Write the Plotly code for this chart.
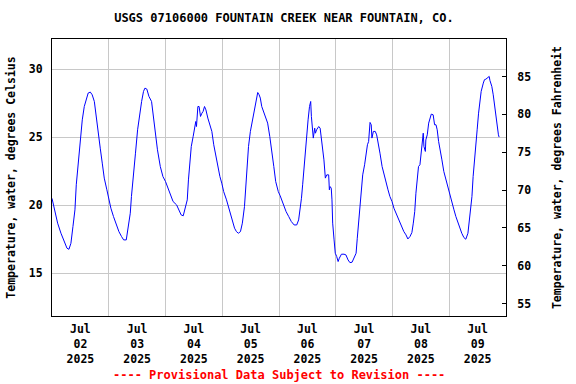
import pandas as pd
import plotly.graph_objects as go

START = "2025-07-02 00:00"

# Hours since 2025-07-02 00:00 and water temperature (deg C)
hours = [
    0, 0.97, 2.38, 3.79, 5.2, 6.33, 7.17, 8.0, 8.86, 9.7, 10.27, 11.1, 11.96, 12.8, 13.65,
    14.5, 15.3, 16.2, 17.0, 17.9, 18.7, 19.6, 20.4, 21.25, 22.1, 23.2, 24.1, 24.9, 26.0,
    27.2, 28.3, 29.4, 30.3, 31.4, 32.2, 33.1, 33.6, 34.5, 35.3, 36.2, 37.0, 37.9, 38.7,
    39.3, 40.1, 41.0, 42.1, 42.9, 43.8, 44.6, 45.8, 46.9, 48.0,
    49.3, 50.4, 51.2, 52.7, 53.8, 54.6, 55.5, 56.3, 57.2, 57.7, 58.3, 58.9, 59.7, 60.3,
    60.8, 61.1, 61.7, 62.2, 62.8, 63.4, 63.9, 64.5, 65.1, 65.9, 66.7, 67.6, 68.4, 69.3,
    70.1, 71.0, 71.8, 72.6, 73.8, 74.6, 75.5, 76.3, 77.2, 78.0, 78.8, 79.7, 80.5, 81.4,
    81.9, 82.5, 83.1, 83.9, 84.8, 85.6, 86.5, 87.0, 87.6, 88.1, 88.7, 89.5, 90.4, 91.2,
    92.1, 92.9, 93.8, 94.6, 95.7,
    96.5, 97.3, 98.2, 99.0, 100.1, 101.2, 102.4, 103.5, 104.3, 104.9, 105.5, 106.0, 106.6,
    107.2, 107.7, 108.3, 108.9, 109.4, 109.7, 110.3, 110.5, 111.1, 111.4, 111.9, 112.8,
    113.4, 113.9, 114.5, 115.0, 115.6, 116.2, 117.0, 117.3, 117.6, 118.1, 118.4, 118.7,
    119.3, 119.8, 120.4, 121.0, 121.5, 122.4, 123.5, 124.3, 125.2, 126.0, 126.9, 127.7,
    128.6, 129.1, 129.7, 130.3, 130.8, 131.4, 132.2, 132.8, 133.4, 133.9, 134.5, 135.0,
    135.3, 135.9, 136.7, 137.3, 137.9, 138.7, 139.6, 140.4, 141.2, 142.1,
    142.9, 143.8, 144.6, 145.5, 146.3, 147.2, 148.0, 148.8, 149.7, 150.5, 151.4, 152.2,
    152.8, 153.4, 153.9, 154.5, 155.0, 155.6, 156.2, 156.7, 157.0, 157.3, 157.9, 158.1,
    158.7, 159.3, 159.8, 160.4, 161.2, 161.8, 162.4, 162.9, 163.5, 164.0, 164.9, 165.7,
    166.6, 167.4, 168.3, 169.1, 170.0, 170.8, 171.7, 172.5, 173.3, 174.2, 175.0, 175.9,
    176.4, 177.0, 177.6, 178.1, 178.7, 179.3, 179.8, 180.4, 181.0, 181.5, 182.4, 182.9,
    183.5, 184.0, 184.6, 184.9, 185.2, 186.0, 186.6, 187.1, 187.7, 188.3, 188.8, 189.1,
]
temp_c = [
    20.5, 19.66, 18.68, 17.94, 17.25, 16.84, 16.76, 17.2, 18.43, 19.66, 21.5, 23.09, 24.56,
    26.27, 27.25, 27.87, 28.24, 28.31, 28.11, 27.62, 26.64, 25.29, 24.19, 23.09, 21.99,
    21.13, 20.4, 19.78, 19.17, 18.55, 18.06, 17.70, 17.45, 17.45, 18.31, 19.41, 20.64,
    22.6, 23.82, 25.54, 26.64, 27.62, 28.36, 28.60, 28.53, 27.99, 27.62, 26.40, 25.42,
    24.07, 22.84, 22.11, 21.74,
    21.13, 20.64, 20.27, 20.02, 19.66, 19.29, 19.22, 19.9, 20.39, 21.86, 23.33, 24.31,
    25.05, 25.78, 26.15, 25.78, 27.25, 27.25, 26.52, 26.76, 26.89, 27.25, 27.0, 26.40,
    25.91, 25.42, 24.44, 23.58, 22.84, 22.11, 21.62, 21.0, 20.39, 19.90, 19.41, 18.80,
    18.31, 18.06, 17.94, 18.06, 18.68, 19.90, 21.37, 22.84, 24.31, 25.42, 26.27, 27.13,
    27.99, 28.28, 28.11, 27.87, 27.25, 26.89, 26.52, 26.03, 25.05, 23.82, 22.84, 21.74,
    21.0,
    20.69, 20.27, 19.9, 19.53, 19.17, 18.80, 18.55, 18.55, 18.92, 19.66, 20.51, 21.5,
    22.84, 24.07, 25.05, 26.27, 27.25, 27.62, 26.52, 25.66, 24.93, 25.66, 25.29, 25.54,
    25.78, 25.66, 25.05, 24.19, 23.33, 21.99, 22.23, 22.23, 21.13, 21.37, 21.25, 20.39,
    18.68, 17.45, 16.47, 16.23, 15.86, 16.1, 16.40, 16.40, 16.35, 15.98, 15.78, 15.81,
    16.1, 16.47, 17.57, 18.80, 19.9, 20.88, 22.23, 22.97, 23.82, 24.44, 24.68, 26.08,
    25.91, 24.93, 25.42, 25.42, 25.17, 24.44, 23.82, 22.84, 22.23, 21.62, 21.13,
    20.64, 20.27, 19.78, 19.41, 19.04, 18.68, 18.43, 18.06, 17.82, 17.52, 17.70, 17.99,
    18.68, 19.53, 20.88, 21.99, 22.84, 22.97, 24.07, 25.25, 25.29, 24.31, 23.95, 24.80,
    25.17, 26.03, 26.40, 26.69, 26.64, 25.91, 25.91, 25.54, 24.68, 24.07, 23.33, 22.48,
    21.86, 21.25, 20.76, 20.15, 19.66, 19.17, 18.68, 18.31, 17.94, 17.62, 17.5, 17.94,
    18.68, 19.41, 20.64, 22.11, 23.58, 24.56, 25.54, 26.76, 27.75, 28.36, 28.97, 29.22,
    29.26, 29.34, 29.41, 29.46, 29.17, 28.73, 28.11, 27.38, 26.52, 25.78, 25.17, 25.0,
]

day_labels = ["02", "03", "04", "05", "06", "07", "08", "09"]
c_ticks = [15, 20, 25, 30]
f_ticks = [55, 60, 65, 70, 75, 80, 85]
c_range = [11.86, 32.21]
f_range = [c * 9 / 5 + 32 for c in c_range]

times = pd.Timestamp(START) + pd.to_timedelta(hours, unit="h")
tick_noon = [pd.Timestamp(f"2025-07-{d} 12:00") for d in day_labels]
tick_text = [f"Jul<br>{d}<br>2025" for d in day_labels]

FONT = "DejaVu Sans Mono"
fnt = dict(family=FONT, size=11.5, color="black", weight="bold")

fig = go.Figure()
fig.add_trace(go.Scatter(x=times, y=temp_c, mode="lines",
                         line=dict(color="#0000FF", width=1), showlegend=False,
                         hoverinfo="skip"))
# invisible trace to activate right axis
fig.add_trace(go.Scatter(x=[times[0]], y=[f_range[0]], yaxis="y2", mode="markers",
                         marker=dict(opacity=0), showlegend=False, hoverinfo="skip"))

fig.update_layout(
    width=576, height=384,
    margin=dict(l=52, r=70, t=39, b=68, autoexpand=False),
    paper_bgcolor="white", plot_bgcolor="white",
    title=dict(text="USGS 07106000 FOUNTAIN CREEK NEAR FOUNTAIN, CO.",
               x=0.493, xanchor="center", y=1 - 18 / 384, yanchor="middle",
               font=dict(family=FONT, size=12, color="black", weight="bold")),
    xaxis=dict(
        range=[pd.Timestamp("2025-07-02"), pd.Timestamp("2025-07-10")],
        tickmode="array", tickvals=tick_noon, ticktext=tick_text,
        showgrid=False, ticks="", tickfont=fnt, ticklabelstandoff=2,
        showline=True, linecolor="black", linewidth=1, mirror=True,
        zeroline=False,
        minor=dict(tickmode="linear", tick0="2025-07-02", dtick=86400000,
                   showgrid=True, gridcolor="#c8c8c8", gridwidth=1, ticks=""),
    ),
    yaxis=dict(
        range=c_range, tickmode="array", tickvals=c_ticks,
        showgrid=True, gridcolor="#c8c8c8", gridwidth=1, ticks="",
        tickfont=fnt, ticklabelstandoff=6,
        showline=True, linecolor="black", linewidth=1, mirror=True, zeroline=False,
        title=dict(text="Temperature, water, degrees Celsius", font=fnt, standoff=10),
    ),
    yaxis2=dict(
        range=f_range, overlaying="y", side="right", tickmode="array", tickvals=f_ticks,
        showgrid=False, ticks="inside", ticklen=4, tickcolor="black",
        tickfont=fnt, ticklabelstandoff=8, zeroline=False,
        showline=True, linecolor="black", linewidth=1,
        title=dict(text="Temperature, water, degrees Fahrenheit", font=fnt, standoff=22),
    ),
    annotations=[dict(
        text="---- Provisional Data Subject to Revision ----",
        xref="paper", yref="paper", x=0.5, y=-0.213, xanchor="center", yanchor="middle",
        showarrow=False, font=dict(family=FONT, size=12, color="#FF0000", weight="bold"),
    )],
)

fig.write_html("out.html", config={"displayModeBar": False},
               post_script="document.body.style.margin='0px';document.body.style.padding='0px';")
